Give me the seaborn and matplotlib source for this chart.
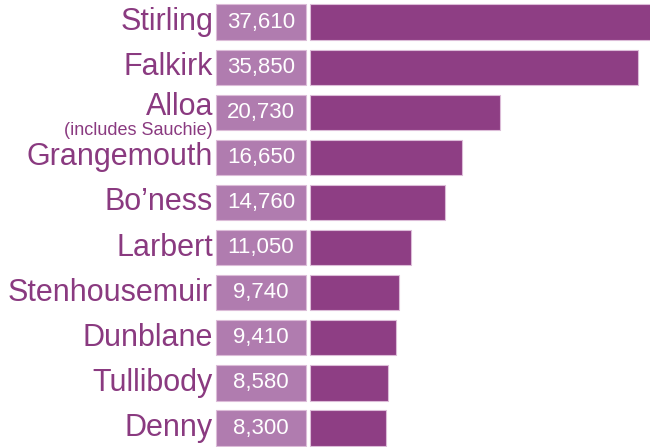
import matplotlib
matplotlib.use("Agg")
import matplotlib.pyplot as plt
import seaborn as sns
import pandas as pd

# Population by settlement
towns = ["Stirling", "Falkirk", "Alloa", "Grangemouth", "Bo\u2019ness",
         "Larbert", "Stenhousemuir", "Dunblane", "Tullibody", "Denny"]
populations = [37610, 35850, 20730, 16650, 14760, 11050, 9740, 9410, 8580, 8300]
value_labels = ["37,610", "35,850", "20,730", "16,650", "14,760",
                "11,050", "9,740", "9,410", "8,580", "8,300"]
alloa_note = "(includes Sauchie)"

BAR = "#8e3e84"
BOX = "#b07caf"
TEXT = "#8a3a80"
EDGE = "#dcbcd8"

sns.set_theme(style="white")
plt.rcParams["font.family"] = ["Liberation Sans", "DejaVu Sans"]

df = pd.DataFrame({"town": towns, "population": populations})

fig = plt.figure(figsize=(6.5, 4.47), dpi=100)
ax = fig.add_axes([0, 0, 1, 1])

sns.barplot(data=df, x="population", y="town", orient="h", color=BAR,
            saturation=1, width=0.78, edgecolor=EDGE, linewidth=0.8, ax=ax)

# Lighter value boxes to the left of the zero line
box_left, box_width = -10270, 9830
ax.barh(range(len(towns)), [box_width] * len(towns), left=box_left,
        height=0.78, color=BOX, edgecolor=EDGE, linewidth=0.8)

for i, (town, lab) in enumerate(zip(towns, value_labels)):
    ax.text(box_left + box_width / 2, i, lab, ha="center", va="center",
            color="white", fontsize=16)
    if town == "Alloa":
        ax.text(box_left - 330, i - 0.12, town, ha="right", va="center",
                color=TEXT, fontsize=22)
        ax.text(box_left - 330, i + 0.41, alloa_note, ha="right", va="center",
                color=TEXT, fontsize=13)
    else:
        ax.text(box_left - 330, i, town, ha="right", va="center",
                color=TEXT, fontsize=22)

ax.set_xlim(-33880, 37160)
ax.set_ylim(9.42, -0.488)
ax.axis("off")

fig.savefig("out.png", dpi=100)
